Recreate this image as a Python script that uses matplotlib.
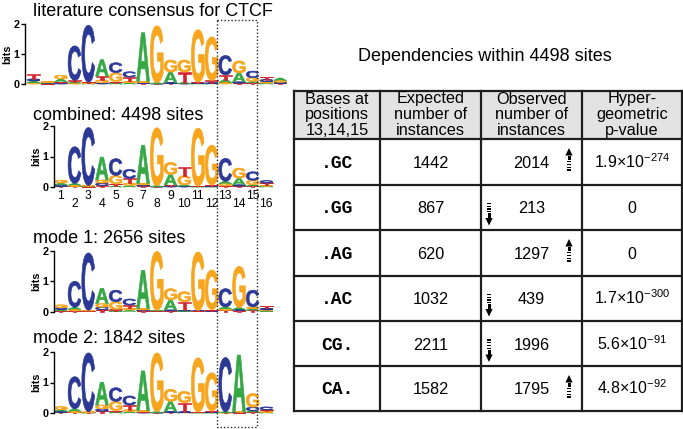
import numpy as np
import matplotlib
matplotlib.use('Agg')
import matplotlib.pyplot as plt
from matplotlib.textpath import TextPath
from matplotlib.font_manager import FontProperties
from matplotlib.patches import PathPatch, Rectangle, Polygon
from matplotlib.transforms import Affine2D

plt.rcParams['font.family'] = ['Liberation Sans', 'DejaVu Sans']
plt.rcParams['mathtext.fontset'] = 'custom'
plt.rcParams['mathtext.rm'] = 'Liberation Sans'
plt.rcParams['mathtext.it'] = 'Liberation Sans'
plt.rcParams['mathtext.default'] = 'regular'

# ---------------- data ----------------
BASES = ['A', 'C', 'G', 'T']
COLORS = {'A': '#35a845', 'C': '#2b3896', 'G': '#f7a51d', 'T': '#d2232c'}

# literature consensus (positions -1 .. 17 on the combined numbering)
lit_pos = list(range(-1, 18))
lit_A = [0.06, 0.02, 0.10, 0.04, 0.02, 0.55, 0.03, 0.04, 1.62, 0.02, 0.35, 0.03, 0.02, 0.02, 0.10, 0.30, 0.05, 0.03, 0.08]
lit_C = [0.07, 0.02, 0.03, 1.15, 1.90, 0.04, 0.33, 0.18, 0.03, 0.01, 0.03, 0.02, 0.02, 0.02, 0.65, 0.04, 0.22, 0.07, 0.04]
lit_G = [0.04, 0.03, 0.12, 0.03, 0.02, 0.10, 0.30, 0.05, 0.04, 1.90, 0.40, 0.40, 1.75, 1.45, 0.05, 0.40, 0.12, 0.05, 0.06]
lit_T = [0.15, 0.01, 0.04, 0.05, 0.02, 0.12, 0.05, 0.14, 0.02, 0.01, 0.02, 0.35, 0.02, 0.08, 0.15, 0.03, 0.04, 0.08, 0.02]

pos16 = list(range(1, 17))
comb_A = [0.06, 0.06, 0.02, 0.75, 0.04, 0.05, 1.25, 0.02, 0.35, 0.04, 0.01, 0.01, 0.08, 0.22, 0.05, 0.03]
comb_C = [0.05, 1.20, 1.90, 0.08, 0.55, 0.30, 0.04, 0.01, 0.03, 0.03, 0.01, 0.01, 0.75, 0.04, 0.28, 0.08]
comb_G = [0.09, 0.04, 0.02, 0.10, 0.28, 0.08, 0.05, 1.90, 0.40, 0.30, 1.90, 1.30, 0.07, 0.33, 0.14, 0.03]
comb_T = [0.02, 0.02, 0.01, 0.05, 0.06, 0.15, 0.03, 0.01, 0.03, 0.30, 0.01, 0.05, 0.04, 0.03, 0.03, 0.07]

m1_A = [0.05, 0.07, 0.01, 0.50, 0.03, 0.05, 1.25, 0.02, 0.33, 0.02, 0.01, 0.01, 0.06, 0.06, 0.05, 0.02]
m1_C = [0.05, 0.85, 1.88, 0.08, 0.38, 0.20, 0.03, 0.01, 0.03, 0.02, 0.01, 0.01, 0.60, 0.04, 0.55, 0.06]
m1_G = [0.10, 0.05, 0.02, 0.12, 0.25, 0.06, 0.05, 1.93, 0.37, 0.33, 1.92, 1.30, 0.05, 1.35, 0.06, 0.03]
m1_T = [0.02, 0.02, 0.01, 0.06, 0.04, 0.10, 0.02, 0.01, 0.02, 0.28, 0.01, 0.04, 0.04, 0.03, 0.04, 0.08]

m2_A = [0.05, 0.08, 0.01, 0.75, 0.03, 0.05, 1.30, 0.02, 0.33, 0.02, 0.01, 0.01, 0.02, 1.85, 0.04, 0.02]
m2_C = [0.04, 1.05, 1.93, 0.08, 0.45, 0.30, 0.02, 0.01, 0.03, 0.02, 0.01, 0.01, 1.78, 0.02, 0.12, 0.10]
m2_G = [0.10, 0.04, 0.02, 0.12, 0.30, 0.06, 0.04, 1.93, 0.40, 0.37, 1.78, 1.25, 0.01, 0.02, 0.45, 0.03]
m2_T = [0.02, 0.02, 0.01, 0.06, 0.05, 0.15, 0.02, 0.01, 0.02, 0.30, 0.01, 0.05, 0.01, 0.01, 0.03, 0.05]

logo_titles = ['literature consensus for CTCF', 'combined: 4498 sites',
               'mode 1: 2656 sites', 'mode 2: 1842 sites']

table_title = 'Dependencies within 4498 sites'
col_headers = ['Bases at\npositions\n13,14,15', 'Expected\nnumber of\ninstances',
               'Observed\nnumber of\ninstances', 'Hyper-\ngeometric\np-value']
bases_rows = ['.GC', '.GG', '.AG', '.AC', 'CG.', 'CA.']
expected = [1442, 867, 620, 1032, 2211, 1582]
observed = [2014, 213, 1297, 439, 1996, 1795]
pvalues = ['1.9×10$^{-274}$', '0', '0', '1.7×10$^{-300}$', '5.6×10$^{-91}$', '4.8×10$^{-92}$']

# ---------------- figure ----------------
W, H, DPI = 683, 429, 100
fig = plt.figure(figsize=(W / DPI, H / DPI), dpi=DPI)

COL0, CW = 54.0, 13.7


def xdata(px):
    return (px - COL0) / CW + 0.5


def px_axes(L, R, y0, y2):
    return fig.add_axes([L / W, 1 - y0 / H, (R - L) / W, (y0 - y2) / H])


LETTER_FP = FontProperties(family='Liberation Sans', weight='bold')
GLYPHS = {b: TextPath((0, 0), b, size=1, prop=LETTER_FP) for b in BASES}


def draw_letter(ax, b, xc, y, h, w=0.94):
    p = GLYPHS[b]
    ext = p.get_extents()
    tr = (Affine2D().translate(-ext.x0, -ext.y0)
          .scale(w / ext.width, h / ext.height)
          .translate(xc - w / 2, y))
    ax.add_patch(PathPatch(tr.transform_path(p), fc=COLORS[b], ec=COLORS[b],
                           lw=0.45, joinstyle='round', clip_on=False))


def draw_logo(ax, pos, A, C, G, T):
    for i, p in enumerate(pos):
        stack = sorted(zip([A[i], C[i], G[i], T[i]], BASES))
        y = 0.0
        for h, b in stack:
            if h > 0:
                draw_letter(ax, b, p, y, h)
            y += h


def style(ax, L, R):
    ax.set_xlim(xdata(L), xdata(R))
    ax.set_ylim(0, 2)
    for s in ['top', 'right', 'bottom']:
        ax.spines[s].set_visible(False)
    ax.spines['left'].set_linewidth(1.0)
    ax.set_xticks([])
    ax.set_yticks([0, 1, 2])
    ax.tick_params(axis='y', length=3, width=1, pad=1, labelsize=7.8)
    for lab in ax.get_yticklabels():
        lab.set_fontweight('bold')
    ax.set_ylabel('bits', fontsize=7.8, fontweight='bold', labelpad=1)
    ax.patch.set_alpha(0)


specs = [
    (25, 288, 84, 24, lit_pos, lit_A, lit_C, lit_G, lit_T),
    (54, 274, 187, 126, pos16, comb_A, comb_C, comb_G, comb_T),
    (54, 274, 311.5, 250.5, pos16, m1_A, m1_C, m1_G, m1_T),
    (54, 274, 413, 352, pos16, m2_A, m2_C, m2_G, m2_T),
]
logo_axes = []
for L, R, y0, y2, pos, A, C, G, T in specs:
    ax = px_axes(L, R, y0, y2)
    style(ax, L, R)
    draw_logo(ax, pos, A, C, G, T)
    logo_axes.append(ax)

# position numbers under the combined logo
axc = logo_axes[1]
for p in pos16:
    axc.text(p, -0.29 if p % 2 == 1 else -0.57, str(p), ha='center', va='center',
             fontsize=8.7, clip_on=False)

# ---------------- overlay (pixel coordinates) ----------------
ov = fig.add_axes([0, 0, 1, 1], zorder=5)
ov.set_xlim(0, W)
ov.set_ylim(H, 0)
ov.axis('off')
ov.patch.set_alpha(0)

title_base = [16.5, 119.5, 243, 343]
for t, yb in zip(logo_titles, title_base):
    ov.text(33, yb, t, fontsize=13, va='baseline', ha='left')

# dotted box around positions 13-15
ov.add_patch(Rectangle((217, 20), 40, 407, fill=False, ls=(0, (1, 1.5)), lw=1.0, ec='#2a2a2a'))

# table
ov.text(485, 61, table_title, fontsize=13, ha='center', va='baseline')
xe = [294, 380, 481, 582, 682]
ye = [91, 139, 184.5, 230, 275.5, 321, 366, 411]
ov.add_patch(Rectangle((xe[0], ye[0]), xe[-1] - xe[0], ye[1] - ye[0], fc='#e3e3e3', ec='none', zorder=0))
lc = '#1e1e1e'
for x in xe:
    ov.plot([x, x], [ye[0], ye[-1]], color=lc, lw=1.6, solid_capstyle='projecting')
for y in ye:
    ov.plot([xe[0], xe[-1]], [y, y], color=lc, lw=1.6, solid_capstyle='projecting')

for j, hdr in enumerate(col_headers):
    xc = (xe[j] + xe[j + 1]) / 2
    for k, line in enumerate(hdr.split('\n')):
        ov.text(xc, 103.5 + k * 15.8, line, fontsize=11.7, ha='center', va='baseline')

for i in range(len(bases_rows)):
    yc = (ye[i + 1] + ye[i + 2]) / 2
    yb = yc + 6
    xcs = [(xe[j] + xe[j + 1]) / 2 for j in range(4)]
    ov.text(xcs[0], yb, bases_rows[i], fontsize=13, ha='center', va='baseline',
            family='Liberation Mono', fontweight='bold')
    ov.text(xcs[1], yb, str(expected[i]), fontsize=11.7, ha='center', va='baseline')
    ov.text(xcs[2], yb, str(observed[i]), fontsize=11.7, ha='center', va='baseline')
    ov.text(xcs[3], yb, pvalues[i], fontsize=11.5, ha='center', va='baseline')


def arrow(ax, x, ytip, ytail):
    d = 1 if ytail > ytip else -1
    head, hw = 7.5, 3.6
    hb = ytip + d * head
    ax.add_patch(Polygon([[x - hw, hb], [x + hw, hb], [x, ytip]], closed=True, fc='k', ec='none'))
    L = abs(ytail - ytip)
    se = hb + d * 0.3 * (L - head)
    ax.add_patch(Rectangle((x - 1.5, min(hb, se)), 3.0, abs(se - hb), fc='k', ec='none'))
    n = 4
    step = (abs(ytail - se)) / n
    for k in range(n):
        yy = se + d * (step * (k + 0.6))
        ax.add_patch(Rectangle((x - 1.9, yy - 0.6), 3.8, 1.2, fc='k', ec='none'))


for i in range(len(observed)):
    top = ye[i + 1]
    if observed[i] > expected[i]:
        arrow(ov, 569, top + 9, top + 32)
    else:
        arrow(ov, 489, top + 41, top + 18)

fig.savefig('out.png', dpi=DPI)
